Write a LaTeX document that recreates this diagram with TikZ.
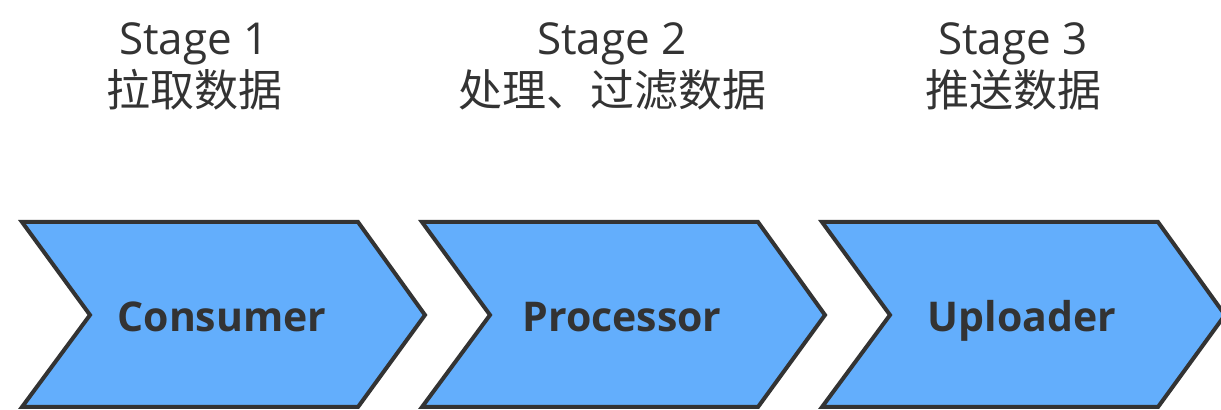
\documentclass[tikz,border=0pt]{standalone}
\usepackage{fontspec}
\setmainfont{Open Sans}
\newfontfamily\cjk{Noto Sans CJK SC}
\definecolor{stageblue}{RGB}{99,174,252}
\definecolor{inkgrey}{RGB}{51,51,51}
\tikzset{
	stagebox/.style={draw=inkgrey, fill=stageblue, line width=2pt, line join=miter},
	boxtext/.style={text=inkgrey, font=\fontsize{20.5}{24}\selectfont\bfseries, inner sep=0pt, anchor=base},
	stagetext/.style={text=inkgrey, font=\fontsize{22}{26}\selectfont, align=center, inner sep=0pt, anchor=base}
}
\begin{document}
\begin{tikzpicture}[x=0.5pt,y=-0.5pt]
	\useasboundingbox (0,0) rectangle (1221,410);
	\draw [stagebox] (22,222) -- (358,222) -- (425,315) -- (358,407) -- (22,407) -- (90,315) -- cycle;
	\draw [stagebox] (422,222) -- (758,222) -- (825,315) -- (758,407) -- (422,407) -- (490,315) -- cycle;
	\draw [stagebox] (822,222) -- (1158,222) -- (1225,315) -- (1158,407) -- (822,407) -- (890,315) -- cycle;

	\node [boxtext] (consumer) at (222,332) {Consumer};
	\node [boxtext] (processor) at (622,332) {Processor};
	\node [boxtext] (uploader) at (1022,332) {Uploader};

	\node [stagetext] (stage1) at (194,107) {Stage 1\\{\cjk 拉取数据}};
	\node [stagetext] (stage2) at (612,107) {Stage 2\\{\cjk 处理、过滤数据}};
	\node [stagetext] (stage3) at (1013,107) {Stage 3\\{\cjk 推送数据}};
\end{tikzpicture}
\end{document}
